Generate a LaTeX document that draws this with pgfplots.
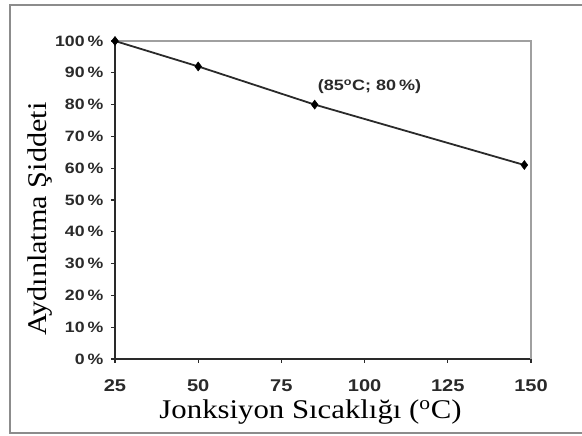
\documentclass[border=0pt]{standalone}
\usepackage{fontspec}
\setmainfont{Liberation Serif}
\setsansfont{Liberation Sans}
\usepackage{pgfplots}
\pgfplotsset{compat=1.18}
\definecolor{frame}{HTML}{8C8C8C}
\definecolor{boxgray}{HTML}{A0A0A0}
\definecolor{ink}{HTML}{2A2A2A}
\begin{document}
\begin{tikzpicture}[x=1pt,y=1pt]
\path[use as bounding box] (0,0) rectangle (582,436);
\draw[frame, line width=2pt] (582,431) -- (10,431) -- (10,3) -- (582,3);
\begin{axis}[
  at={(115pt,77pt)}, anchor=south west,
  scale only axis, width=416pt, height=318pt,
  xmin=25, xmax=150, ymin=0, ymax=100,
  axis x line*=bottom, axis y line*=left,
  axis line style={ink, line width=2pt, -},
  xtick={25,50,75,100,125,150},
  xticklabels={25,50,75,100,125,150},
  ytick={0,10,...,100},
  yticklabels={0\,\%,10\,\%,20\,\%,30\,\%,40\,\%,50\,\%,60\,\%,70\,\%,80\,\%,90\,\%,100\,\%},
  tick align=outside, major tick length=4pt,
  tick style={ink, line width=1.2pt},
  xticklabel style={font=\sffamily\bfseries\fontsize{17}{19}\selectfont, text=ink, xscale=1.18, yshift=-13pt},
  yticklabel style={font=\sffamily\bfseries\fontsize{15}{17}\selectfont, text=ink, xscale=1.18, xshift=-3pt},
  xlabel={\scalebox{1.14}[1]{Jonksiyon Sıcaklığı (\textsuperscript{o}C)}},
  ylabel={\scalebox{1.12}[1]{Aydınlatma Şiddeti}},
  label style={font=\fontsize{27}{30}\selectfont, text=black},
  xlabel style={at={(0.47,0)}, anchor=base, yshift=-60pt},
  ylabel style={at={(0,0.44)}, anchor=base, yshift=68pt},
  clip=false,
]
\draw[boxgray, line width=1.6pt] (rel axis cs:0,1) -- (rel axis cs:1,1) -- (rel axis cs:1,0);
\addplot[ink, line width=1.8pt, mark=diamond*, mark size=4.5pt, mark options={fill=black, draw=black, line width=0.5pt}]
  coordinates {(25,100) (50,92) (85,80) (148,61)};
\node[font=\sffamily\bfseries\fontsize{15}{17}\selectfont, text=ink, xscale=1.2] at (axis cs:101.5,85.5) {(85\textsuperscript{o}C; 80\,\%)};
\end{axis}
\end{tikzpicture}
\end{document}
